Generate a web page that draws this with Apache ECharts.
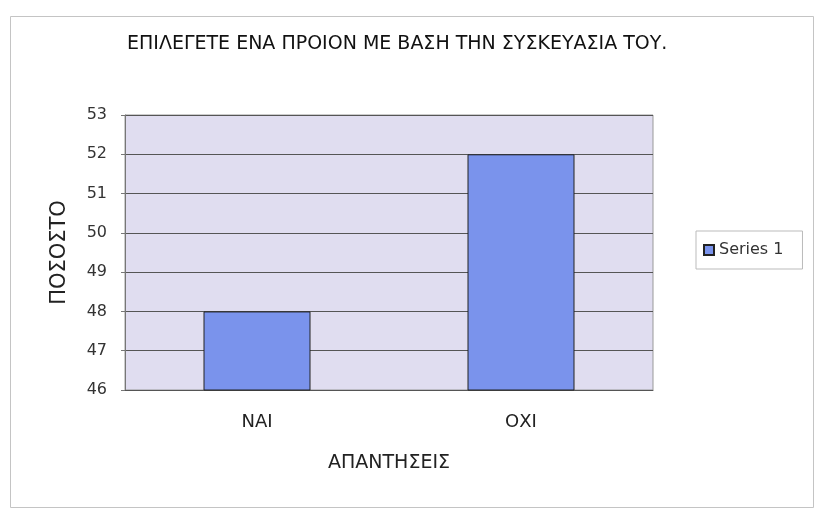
<!DOCTYPE html>
<html>
<head>
<meta charset="utf-8">
<script src="https://cdn.jsdelivr.net/npm/echarts@6/dist/echarts.min.js"></script>
<style>html,body{margin:0;padding:0;background:#fff;}#c{width:815px;height:511px;}</style>
</head>
<body>
<div id="c"></div>
<script>
var titleText = 'ΕΠΙΛΕΓΕΤΕ ΕΝΑ ΠΡΟΙΟΝ ΜΕ ΒΑΣΗ ΤΗΝ ΣΥΣΚΕΥΑΣΙΑ ΤΟΥ.';
var categories = ['ΝΑΙ', 'ΟΧΙ'];
var seriesName = 'Series 1';
var values = [48, 52];
var yTicks = [46, 47, 48, 49, 50, 51, 52, 53];
var xAxisName = 'ΑΠΑΝΤΗΣΕΙΣ';
var yAxisName = 'ΠΟΣΟΣΤΟ';

var chart = echarts.init(document.getElementById('c'), null, {renderer: 'canvas'});
var font = '"DejaVu Sans", Arial, sans-serif';
chart.setOption({
  backgroundColor: '#fff',
  animation: false,
  graphic: [{
    type: 'rect', left: 8, top: 14, shape: {width: 803, height: 491},
    style: {fill: 'none', stroke: '#c4c4c4', lineWidth: 1}, silent: true
  }],
  title: {
    text: titleText, left: 127, top: 35, padding: 0,
    textStyle: {fontFamily: font, fontSize: 19, fontWeight: 'normal', color: '#111'}
  },
  legend: {
    show: true, left: 696, top: 231, orient: 'vertical',
    data: [seriesName],
    itemWidth: 10, itemHeight: 10, itemGap: 0,
    padding: [11, 19, 11, 7],
    borderColor: '#bbb', borderWidth: 1,
    textStyle: {fontFamily: font, fontSize: 16, color: '#333'},
    icon: 'rect'
  },
  grid: {left: 125, right: 162, top: 115, bottom: 121, show: true, backgroundColor: '#e0ddf0', borderColor: '#999', borderWidth: 1},
  xAxis: {
    type: 'category', data: categories,
    name: xAxisName, nameLocation: 'middle', nameGap: 64,
    nameTextStyle: {fontFamily: font, fontSize: 19, color: '#222'},
    axisLine: {lineStyle: {color: '#555'}},
    axisTick: {show: false},
    axisLabel: {fontFamily: font, fontSize: 18, color: '#222', margin: 23}
  },
  yAxis: {
    type: 'value', min: yTicks[0], max: yTicks[yTicks.length - 1], interval: 1,
    name: yAxisName, nameLocation: 'middle', nameGap: 55, nameRotate: 90,
    nameTextStyle: {fontFamily: font, fontSize: 21, color: '#222'},
    axisLine: {show: true, lineStyle: {color: '#777'}},
    axisTick: {show: true, length: 4, lineStyle: {color: '#777'}},
    axisLabel: {fontFamily: font, fontSize: 16, color: '#333', margin: 18},
    splitLine: {show: true, lineStyle: {color: '#555', width: 1}}
  },
  series: [{
    name: seriesName, type: 'bar', data: values,
    barWidth: 107,
    itemStyle: {color: '#7a93ec', borderColor: '#222', borderWidth: 1}
  }]
});
</script>
</body>
</html>
